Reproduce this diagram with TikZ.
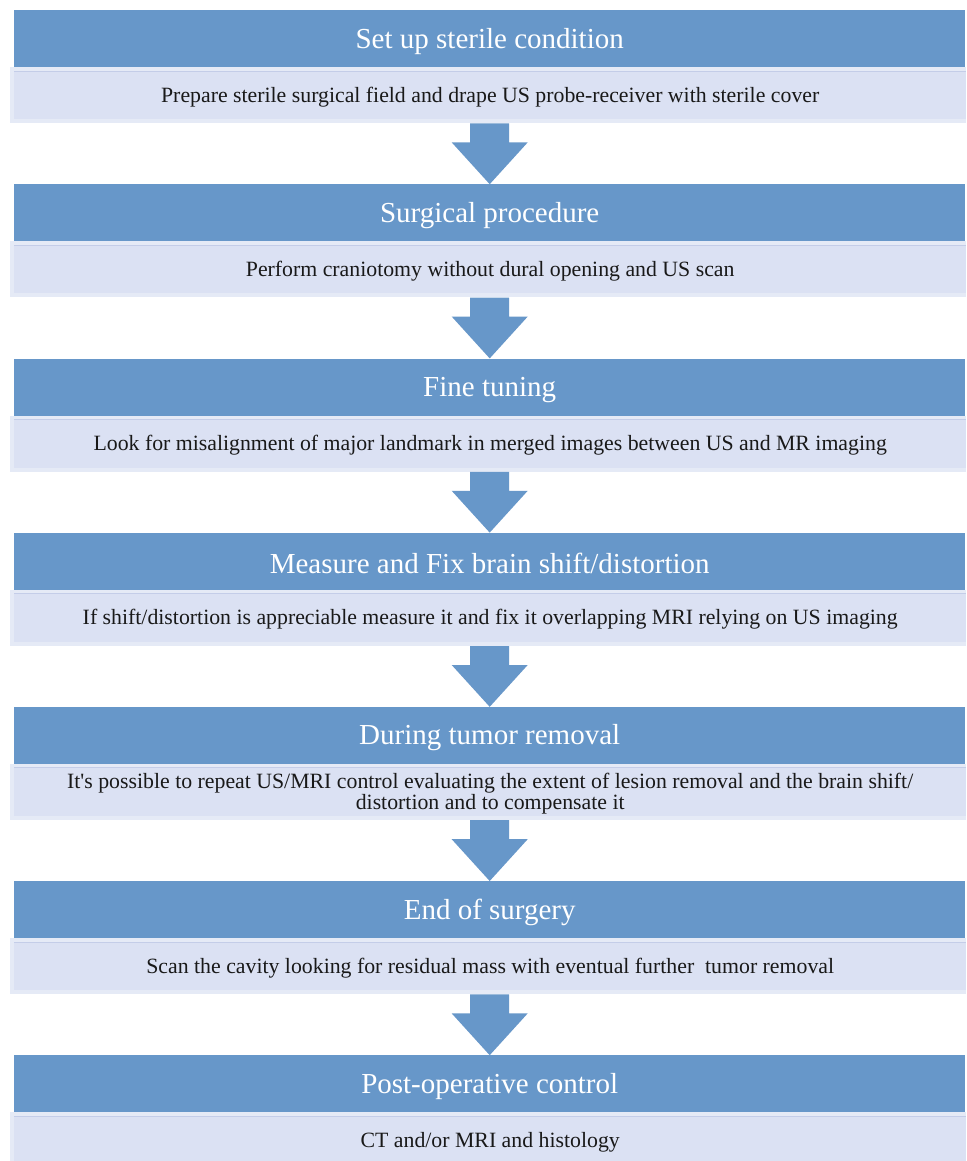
\documentclass[tikz,border=0pt]{standalone}
\usepackage{fontspec}
\setmainfont{Liberation Serif}
\usetikzlibrary{calc}
\definecolor{hdr}{RGB}{103,151,201}
\definecolor{dsc}{RGB}{219,225,243}
\definecolor{dscout}{RGB}{229,234,246}
\definecolor{dscline}{RGB}{196,205,232}
\definecolor{txt}{RGB}{25,25,25}
\begin{document}
\begin{tikzpicture}[x=1pt,y=-1pt,
  hdrbox/.style={fill=hdr, draw=none, minimum width=951pt, minimum height=57pt, inner sep=0pt,
    anchor=north west},
  hdrtext/.style={text=white, inner sep=0pt, font=\fontsize{29}{32}\selectfont},
  outbox/.style={fill=dscout, draw=none, minimum width=956pt, minimum height=56pt, inner sep=0pt, anchor=north west},
  inbox/.style={fill=dsc, draw=none, minimum width=952pt, minimum height=48pt, inner sep=0pt,
    anchor=north west},
  desctext/.style={text=txt, align=center, inner sep=0pt, font=\fontsize{21.8}{21}\selectfont},
  flowarrow/.style={fill=hdr, draw=none}]
\useasboundingbox (0,0) rectangle (966,1161);
\clip (0,0) rectangle (966,1161);
\fill[white] (0,0) rectangle (966,1161);
\foreach \i/\head/\desc in {
  0/{Set up sterile condition}/{Prepare sterile surgical field and drape US probe-receiver with sterile cover},
  1/{Surgical procedure}/{Perform craniotomy without dural opening and US scan},
  2/{Fine tuning}/{Look for misalignment of major landmark in merged images between US and MR imaging},
  3/{Measure and Fix brain shift/distortion}/{If shift/distortion is appreciable measure it and fix it overlapping MRI relying on US imaging},
  4/{During tumor removal}/{It\textquotesingle s possible to repeat US/MRI control evaluating the extent of lesion removal and the brain shift/\\distortion and to compensate it},
  5/{End of surgery}/{Scan the cavity looking for residual mass with eventual further\ \ tumor removal},
  6/{Post-operative control}/{CT and/or MRI and histology}} {
  \pgfmathsetmacro{\T}{10+174.2*\i}
  \node[hdrbox] (h\i) at (14,\T) {};
  \node[hdrtext] (ht\i) at ($(h\i.center)+(0,2.5)$) {\head};
  \node[outbox] (o\i) at (10,\T+57) {};
  \node[inbox] (d\i) at (14,\T+61) {};
  \draw[dscline, line width=0.8pt] (d\i.north west) -- (d\i.north east);
  \node[desctext] (t\i) at ($(d\i.center)+(0,1.5)$) {\desc};
}
\foreach \i [evaluate=\i as \j using int(\i+1)] in {0,...,5} {
  \fill[flowarrow] let \p1=(o\i.south), \p2=(h\j.north) in
    (\x2-19.5pt,\y1) -- (\x2+19.5pt,\y1) -- (\x2+19.5pt,\y1-19pt) -- (\x2+38pt,\y1-19pt)
    -- (\p2) -- (\x2-38pt,\y1-19pt) -- (\x2-19.5pt,\y1-19pt) -- cycle;
}
\end{tikzpicture}
\end{document}
